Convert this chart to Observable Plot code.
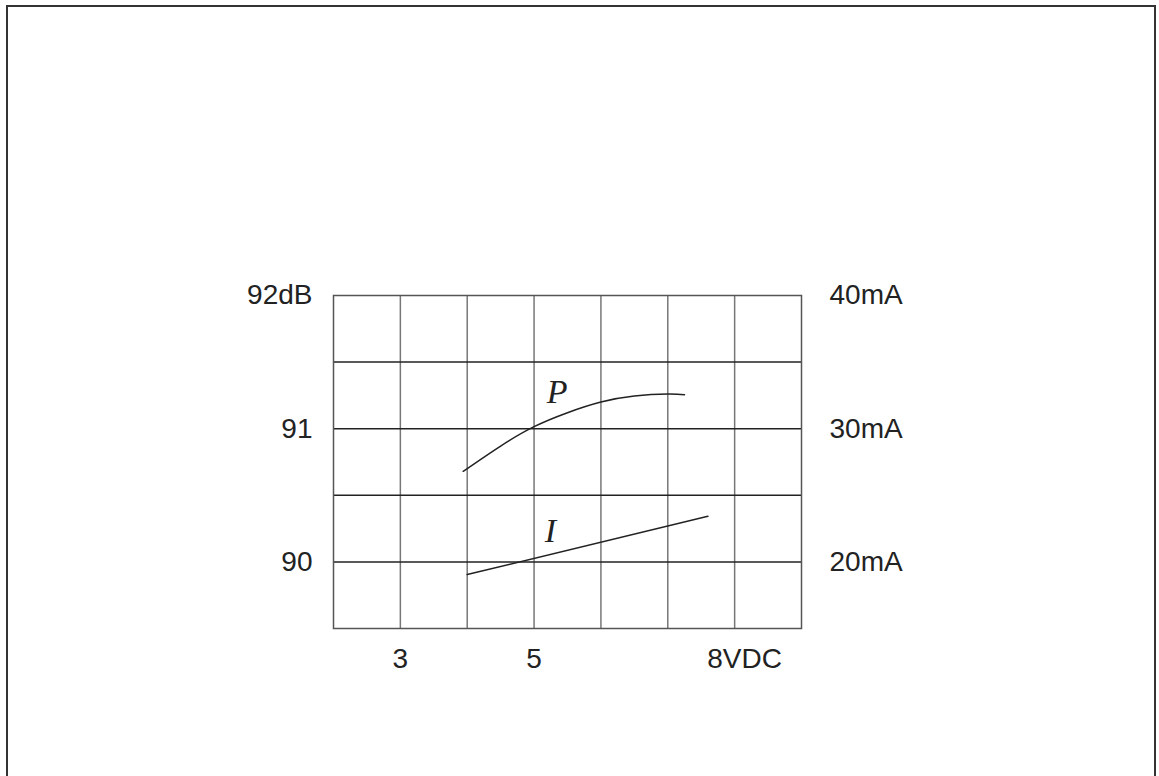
<!DOCTYPE html>
<html>
<head>
<meta charset="utf-8">
<script src="https://cdn.jsdelivr.net/npm/d3@7"></script>
<script src="https://cdn.jsdelivr.net/npm/@observablehq/plot@0.6"></script>
<style>
  html, body { margin: 0; padding: 0; background: #fff; }
  #wrap { position: relative; width: 1159px; height: 776px; overflow: hidden; }
  #border { position: absolute; left: 6px; top: 5px; width: 1150px; height: 790px; border: 2px solid #333; box-sizing: border-box; }
  #chart { position: absolute; left: 0; top: 0; }
</style>
</head>
<body>
<div id="wrap"><div id="chart"></div><div id="border"></div></div>
<script>
// Sound pressure curve P (dB) vs supply voltage (VDC)
const voltageP = [3.94, 4.5, 5, 5.5, 6, 6.5, 7, 7.25];
const powerDb = [90.68, 90.87, 91.015, 91.12, 91.2, 91.245, 91.26, 91.255];
// Current curve I (mA) vs supply voltage (VDC)
const voltageI = [4.0, 7.6];
const currentMa = [19.05, 23.42];
// Axis ticks and labels
const dbTicks = [90, 91, 92];
const dbLabels = ["90", "91", "92dB"];
const maLabels = ["20mA", "30mA", "40mA"];
const xTicksMain = [3, 5];
const xLabelsMain = ["3", "5"];
const xTickLast = [8];
const xLabelLast = ["8VDC"];
const gridXValues = [3, 4, 5, 6, 7, 8];
const gridYValues = [90, 90.5, 91, 91.5];
const curveLabels = [
  {name: "P", x: 5.19, y: 91.19},
  {name: "I", x: 5.16, y: 90.15}
];

// mA -> dB-axis position (40mA at 92, 30mA at 91, 20mA at 90)
const maToDb = (ma) => 92 - (40 - ma) / 10;

const pData = voltageP.map((v, i) => ({x: v, y: powerDb[i]}));
const iData = voltageI.map((v, i) => ({x: v, y: maToDb(currentMa[i])}));

const chart = Plot.plot({
  width: 1159,
  height: 776,
  marginLeft: 333,
  marginRight: 358,
  marginTop: 295,
  marginBottom: 148,
  style: {fontFamily: "'Liberation Sans', Arial, sans-serif", fontSize: "28px", color: "#222", background: "transparent"},
  x: {domain: [2, 9]},
  y: {domain: [89.5, 92]},
  marks: [
    Plot.gridX(gridXValues, {stroke: "#777", strokeOpacity: 1, strokeWidth: 1.5}),
    Plot.gridY(gridYValues, {stroke: "#222", strokeOpacity: 1, strokeWidth: 1.5}),
    Plot.frame({stroke: "#555", strokeWidth: 1.5}),
    Plot.axisY(dbTicks, {anchor: "left", tickSize: 0, tickPadding: 21, label: null,
      tickFormat: (d) => dbLabels[dbTicks.indexOf(d)], fontSize: 28}),
    Plot.axisY(dbTicks, {anchor: "right", tickSize: 0, tickPadding: 28, label: null,
      tickFormat: (d) => maLabels[dbTicks.indexOf(d)], fontSize: 28}),
    Plot.axisX(xTicksMain, {anchor: "bottom", tickSize: 0, tickPadding: 20, label: null,
      tickFormat: (d) => xLabelsMain[xTicksMain.indexOf(d)], fontSize: 28}),
    Plot.axisX(xTickLast, {anchor: "bottom", tickSize: 0, tickPadding: 20, label: null, dx: 10,
      tickFormat: (d) => xLabelLast[xTickLast.indexOf(d)], fontSize: 28}),
    Plot.line(pData, {x: "x", y: "y", curve: "natural", stroke: "#222", strokeWidth: 1.5}),
    Plot.line(iData, {x: "x", y: "y", stroke: "#222", strokeWidth: 1.5}),
    Plot.text(curveLabels, {x: "x", y: "y", text: "name", textAnchor: "start", lineAnchor: "bottom",
      fontFamily: "'Liberation Serif', 'Times New Roman', serif", fontStyle: "italic", fontSize: 34, fill: "#222"})
  ]
});
document.getElementById("chart").appendChild(chart);
</script>
</body>
</html>
